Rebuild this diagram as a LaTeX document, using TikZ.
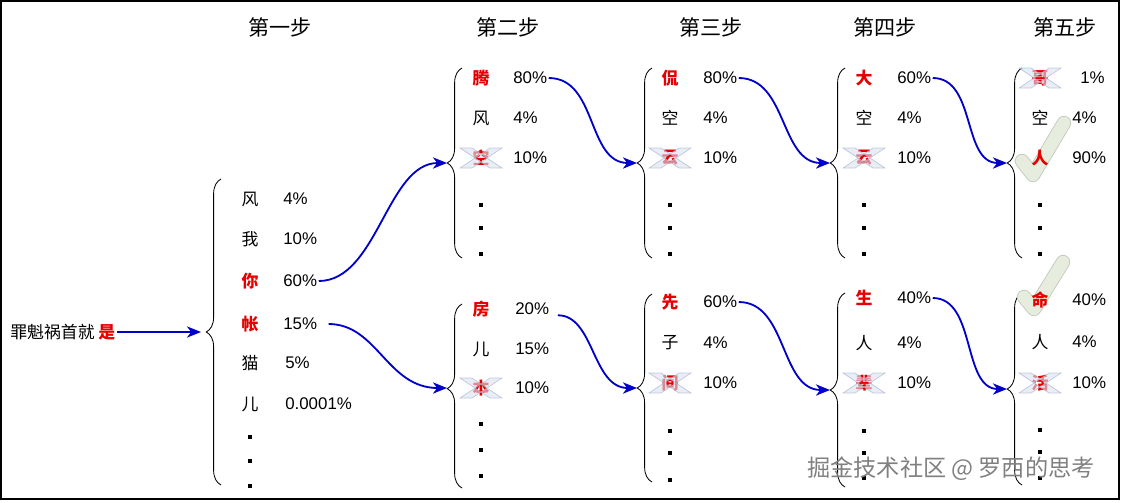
\documentclass[tikz,border=0pt]{standalone}
\usepackage{fontspec}
\setmainfont{Liberation Sans}
\newfontfamily\cjk{Noto Sans CJK SC}
\usetikzlibrary{positioning,calc}
\usetikzlibrary{arrows.meta,decorations.pathreplacing}
\definecolor{HitRed}{RGB}{230,0,0}
\definecolor{FlowBlue}{RGB}{0,0,200}
\definecolor{CrossFill}{RGB}{218,225,240}
\definecolor{CrossLine}{RGB}{170,182,206}
\definecolor{CheckFill}{RGB}{230,236,222}
\definecolor{CheckLine}{RGB}{192,200,184}
\tikzset{word/.style={font=\cjk\fontsize{12}{14}\selectfont,inner sep=0pt}, hit/.style={font=\cjk\bfseries\fontsize{12}{14}\selectfont,text=HitRed,inner sep=0pt}, val/.style={anchor=west,font=\fontsize{12}{14}\selectfont,inner sep=0pt}, dot/.style={fill=black,minimum size=3.5pt,inner sep=0pt}, title/.style={font=\cjk\fontsize{15}{17}\selectfont}}
\tikzset{brc/.style={decorate,decoration={brace,amplitude=10.5pt},line width=0.6pt}, flow/.style={draw=FlowBlue,line width=1.3pt,shorten <=1pt,-{Stealth[length=10pt,width=8pt,inset=3pt]}}, xmark/.style={fill=CrossFill,draw=CrossLine,fill opacity=0.6,draw opacity=0.7,line width=0.5pt}, tick/.style={draw=CheckLine,double=CheckFill,double distance=9pt,line width=0.6pt,line cap=round,line join=round}, wm/.style={font=\cjk\fontsize{16.5}{18}\selectfont,text=black!50}}

\begin{document}
\begin{tikzpicture}[x=0.025cm,y=-0.025cm]
\useasboundingbox (0,0) rectangle (1131,502);
\draw[line width=0.9pt] (1,1) rectangle (1119,499);
% step titles
\node[title] (t1) at (280,27) {第一步};
\node[title] (t2) at (508,27) {第二步};
\node[title] (t3) at (711,27) {第三步};
\node[title] (t4) at (885,27) {第四步};
\node[title] (t5) at (1065,27) {第五步};
% input sentence
\node[word,anchor=west] (src) at (10,332) {罪魁祸首就 {\bfseries\color{HitRed}是}};
\coordinate (b1) at (201,332);
\draw[flow] (src.east) -- (b1);
% braces
\draw[brc] (221,485) -- (221,179);
\draw[brc] (462,258) -- (462,68);
\draw[brc,decoration={aspect=0.54}] (462,488) -- (462,304);
\draw[brc] (652,258) -- (652,68);
\draw[brc] (652,482) -- (652,294);
\draw[brc] (845,258) -- (845,68);
\draw[brc] (845,487) -- (845,293);
\draw[brc] (1022,258) -- (1022,68);
\draw[brc] (1022,485) -- (1022,293);
\coordinate (b2a) at (447,163);
\coordinate (b2b) at (447,388);
\coordinate (b3a) at (637,163);
\coordinate (b3b) at (637,388);
\coordinate (b4a) at (830,163);
\coordinate (b4b) at (830,390);
\coordinate (b5a) at (1007,163);
\coordinate (b5b) at (1007,389);
% checks
\draw[tick] (1022,161) -- (1033,175) -- (1064,123);
\draw[tick] (1024,297) -- (1034,309) -- (1063,262);
% step 1
\node[word] (s1a1) at (250,199) {风};
\node[val] (v1a1) at (283,199) {4\%};
\node[word] (s1a2) at (250,239) {我};
\node[val] (v1a2) at (283,239) {10\%};
\node[hit] (s1a3) at (250,281) {你};
\node[val] (v1a3) at (283,281) {60\%};
\node[hit] (s1a4) at (250,324) {帐};
\node[val] (v1a4) at (283,324) {15\%};
\node[word] (s1a5) at (250,363) {猫};
\node[val] (v1a5) at (285,363) {5\%};
\node[word] (s1a6) at (250,404) {儿};
\node[val] (v1a6) at (285,404) {0.0001\%};
\node[dot] (d1a1) at (250,437) {};
\node[dot] (d1a2) at (250,461) {};
\node[dot] (d1a3) at (250,486) {};
% step 2
\node[hit] (s2a1) at (481,78) {腾};
\node[val] (v2a1) at (513,78) {80\%};
\node[word] (s2a2) at (481,118) {风};
\node[val] (v2a2) at (513,118) {4\%};
\node[hit] (s2a3) at (481,158) {空};
\node[val] (v2a3) at (513,158) {10\%};
\node[dot] (d2a1) at (481,205) {};
\node[dot] (d2a2) at (481,228) {};
\node[dot] (d2a3) at (481,254) {};
\node[hit] (s2b1) at (481,309) {房};
\node[val] (v2b1) at (515,309) {20\%};
\node[word] (s2b2) at (481,349) {儿};
\node[val] (v2b2) at (515,349) {15\%};
\node[hit] (s2b3) at (481,388) {本};
\node[val] (v2b3) at (515,388) {10\%};
\node[dot] (d2b1) at (481,424) {};
\node[dot] (d2b2) at (481,450) {};
\node[dot] (d2b3) at (481,476) {};
% step 3
\node[hit] (s3a1) at (670,78) {侃};
\node[val] (v3a1) at (703,78) {80\%};
\node[word] (s3a2) at (670,118) {空};
\node[val] (v3a2) at (703,118) {4\%};
\node[hit] (s3a3) at (670,158) {云};
\node[val] (v3a3) at (703,158) {10\%};
\node[dot] (d3a1) at (670,205) {};
\node[dot] (d3a2) at (670,228) {};
\node[dot] (d3a3) at (670,254) {};
\node[hit] (s3b1) at (670,302) {先};
\node[val] (v3b1) at (703,302) {60\%};
\node[word] (s3b2) at (670,343) {子};
\node[val] (v3b2) at (703,343) {4\%};
\node[hit] (s3b3) at (670,383) {间};
\node[val] (v3b3) at (703,383) {10\%};
\node[dot] (d3b1) at (670,431) {};
\node[dot] (d3b2) at (670,453) {};
\node[dot] (d3b3) at (670,480) {};
% step 4
\node[hit] (s4a1) at (864,78) {大};
\node[val] (v4a1) at (897,78) {60\%};
\node[word] (s4a2) at (864,118) {空};
\node[val] (v4a2) at (897,118) {4\%};
\node[hit] (s4a3) at (864,158) {云};
\node[val] (v4a3) at (897,158) {10\%};
\node[dot] (d4a1) at (864,205) {};
\node[dot] (d4a2) at (864,228) {};
\node[dot] (d4a3) at (864,254) {};
\node[hit] (s4b1) at (864,298) {生};
\node[val] (v4b1) at (897,298) {40\%};
\node[word] (s4b2) at (864,343) {人};
\node[val] (v4b2) at (897,343) {4\%};
\node[hit] (s4b3) at (864,383) {辈};
\node[val] (v4b3) at (897,383) {10\%};
\node[dot] (d4b1) at (864,431) {};
\node[dot] (d4b2) at (864,453) {};
\node[dot] (d4b3) at (864,478) {};
% step 5
\node[hit] (s5a1) at (1040,78) {哥};
\node[val] (v5a1) at (1080,78) {1\%};
\node[word] (s5a2) at (1040,118) {空};
\node[val] (v5a2) at (1072,118) {4\%};
\node[hit] (s5a3) at (1040,158) {人};
\node[val] (v5a3) at (1072,158) {90\%};
\node[dot] (d5a1) at (1040,205) {};
\node[dot] (d5a2) at (1040,228) {};
\node[dot] (d5a3) at (1040,254) {};
\node[hit] (s5b1) at (1040,300) {命};
\node[val] (v5b1) at (1072,300) {40\%};
\node[word] (s5b2) at (1040,342) {人};
\node[val] (v5b2) at (1072,342) {4\%};
\node[hit] (s5b3) at (1040,383) {活};
\node[val] (v5b3) at (1072,383) {10\%};
\node[dot] (d5b1) at (1040,430) {};
\node[dot] (d5b2) at (1040,452) {};
\node[dot] (d5b3) at (1040,478) {};
% crossed out
\draw[xmark] (s2a3.center) ++(-21,-10) -- ++(12,0) -- ++(30,20) -- ++(-12,0) -- cycle (s2a3.center) ++(21,-10) -- ++(-12,0) -- ++(-30,20) -- ++(12,0) -- cycle;
\draw[xmark] (s2b3.center) ++(-21,-10) -- ++(12,0) -- ++(30,20) -- ++(-12,0) -- cycle (s2b3.center) ++(21,-10) -- ++(-12,0) -- ++(-30,20) -- ++(12,0) -- cycle;
\draw[xmark] (s3a3.center) ++(-21,-10) -- ++(12,0) -- ++(30,20) -- ++(-12,0) -- cycle (s3a3.center) ++(21,-10) -- ++(-12,0) -- ++(-30,20) -- ++(12,0) -- cycle;
\draw[xmark] (s3b3.center) ++(-21,-10) -- ++(12,0) -- ++(30,20) -- ++(-12,0) -- cycle (s3b3.center) ++(21,-10) -- ++(-12,0) -- ++(-30,20) -- ++(12,0) -- cycle;
\draw[xmark] (s4a3.center) ++(-21,-10) -- ++(12,0) -- ++(30,20) -- ++(-12,0) -- cycle (s4a3.center) ++(21,-10) -- ++(-12,0) -- ++(-30,20) -- ++(12,0) -- cycle;
\draw[xmark] (s4b3.center) ++(-21,-10) -- ++(12,0) -- ++(30,20) -- ++(-12,0) -- cycle (s4b3.center) ++(21,-10) -- ++(-12,0) -- ++(-30,20) -- ++(12,0) -- cycle;
\draw[xmark] (s5a1.center) ++(-21,-10) -- ++(12,0) -- ++(30,20) -- ++(-12,0) -- cycle (s5a1.center) ++(21,-10) -- ++(-12,0) -- ++(-30,20) -- ++(12,0) -- cycle;
\draw[xmark] (s5b3.center) ++(-21,-10) -- ++(12,0) -- ++(30,20) -- ++(-12,0) -- cycle (s5b3.center) ++(21,-10) -- ++(-12,0) -- ++(-30,20) -- ++(12,0) -- cycle;
% transitions
\draw[flow] (v1a3.east) .. controls +(60,0) and +(-60,0) .. (b2a);
\draw[flow,shorten <=8pt] (v1a4.east) .. controls +(60,0) and +(-60,0) .. (b2b);
\draw[flow] (v2a1.east) .. controls +(50,0) and +(-50,0) .. (b3a);
\draw[flow,shorten <=6pt] (v2b1.south east) .. controls +(45,0) and +(-45,0) .. (b3b);
\draw[flow] (v3a1.east) .. controls +(50,0) and +(-50,0) .. (b4a);
\draw[flow] (v3b1.east) .. controls +(50,0) and +(-50,0) .. (b4b);
\draw[flow] (v4a1.east) .. controls +(45,0) and +(-45,0) .. (b5a);
\draw[flow] (v4b1.east) .. controls +(45,0) and +(-45,0) .. (b5b);
% watermark
\node[wm] (mark) at (951,469) {掘金技术社区 @ 罗西的思考};
\end{tikzpicture}
\end{document}
